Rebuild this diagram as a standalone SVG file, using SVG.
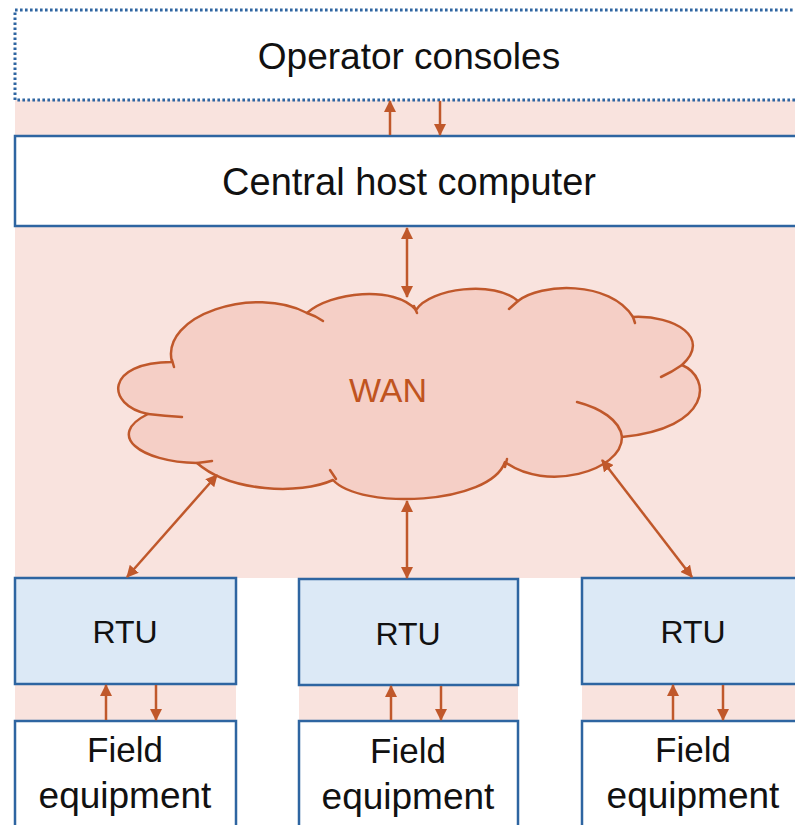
<svg xmlns="http://www.w3.org/2000/svg" width="795" height="825" viewBox="0 0 795 825">
<defs>
<style>
.bg{fill:#f9e3de;stroke:none}
.box{fill:#ffffff;stroke:#2e65a1;stroke-width:2.5}
.dot{fill:#ffffff;stroke:#2e65a1;stroke-width:3;stroke-dasharray:2.6 2.4}
.rtu{fill:#dce9f6;stroke:#2e65a1;stroke-width:2.5}
.lbl{font-family:"Liberation Sans",Arial,sans-serif;fill:#111111;text-anchor:middle}
.big{font-size:37px}
.big2{font-size:38px}
.mid{font-size:35px}
.eq{font-size:37px}
.sm{font-size:32px}
.cloud{fill:#f5cfc6;stroke:#c0582b;stroke-width:2.5;stroke-linejoin:round}
.tail{fill:none;stroke:#c0582b;stroke-width:2.5;stroke-linecap:round}
.wan{font-family:"Liberation Sans",Arial,sans-serif;font-size:34px;fill:#c0541f;text-anchor:middle}
.arr{fill:none;stroke:#c0582b;stroke-width:2.5}
</style>
<marker id="ah" viewBox="0 0 12 12" refX="11" refY="6" markerWidth="12" markerHeight="12" markerUnits="userSpaceOnUse" orient="auto-start-reverse">
<path d="M0,0 L12,6 L0,12 Z" fill="#c0582b"/>
</marker>
</defs>

<g id="background">
<rect class="bg" x="15" y="100" width="780" height="478"/>
<rect class="bg" x="15" y="684" width="221" height="37"/>
<rect class="bg" x="299" y="684" width="219" height="37"/>
<rect class="bg" x="582" y="684" width="213" height="37"/>
</g>

<g id="operator-consoles">
<rect class="dot" x="15" y="10" width="800" height="90"/>
<text class="lbl big" x="409" y="69">Operator consoles</text>
</g>

<g id="central-host">
<rect class="box" x="15" y="136" width="800" height="90"/>
<text class="lbl big2" x="409" y="195">Central host computer</text>
</g>

<g id="wan">
<path class="cloud" d="M172,362 C160,315 255,285 307,313 C330,292 395,285 416,310 C430,288 495,280 518,301 C540,283 610,280 633,317 C675,315 712,338 682,365 C712,378 712,428 622,437 C622,472 545,492 505,462 C490,505 360,510 333,480 C300,495 230,492 197,463 C140,462 105,435 148,414 C105,405 105,362 172,362 Z"/>
<path class="tail" d="M172,360 L174,367"/>
<path class="tail" d="M307,313 Q316,316 323,321"/>
<path class="tail" d="M414,306 L417,313"/>
<path class="tail" d="M518,301 L509,309"/>
<path class="tail" d="M633,317 L635,323"/>
<path class="tail" d="M682,365 Q672,372 661,377"/>
<path class="tail" d="M577,402 C600,408 620,420 622,437"/>
<path class="tail" d="M505,467 L507,459"/>
<path class="tail" d="M330,470 L336,479"/>
<path class="tail" d="M197,463 Q205,462 212,461"/>
<path class="tail" d="M148,414 Q165,416 182,417"/>
<text class="wan" x="388" y="402">WAN</text>
</g>

<g id="rtu-1">
<rect class="rtu" x="15" y="578" width="221" height="106"/>
<text class="lbl sm" x="125" y="643">RTU</text>
</g>
<g id="rtu-2">
<rect class="rtu" x="299" y="579" width="219" height="106"/>
<text class="lbl sm" x="408" y="645">RTU</text>
</g>
<g id="rtu-3">
<rect class="rtu" x="582" y="578" width="230" height="106"/>
<text class="lbl sm" x="693" y="643">RTU</text>
</g>

<g id="field-1">
<rect class="box" x="15" y="721" width="221" height="120"/>
<text class="lbl mid" x="125" y="762">Field</text>
<text class="lbl eq" x="125" y="808">equipment</text>
</g>
<g id="field-2">
<rect class="box" x="299" y="721" width="219" height="120"/>
<text class="lbl mid" x="408" y="763">Field</text>
<text class="lbl eq" x="408" y="809">equipment</text>
</g>
<g id="field-3">
<rect class="box" x="582" y="721" width="230" height="120"/>
<text class="lbl mid" x="693" y="762">Field</text>
<text class="lbl eq" x="693" y="808">equipment</text>
</g>

<g id="connectors">
<line class="arr" x1="390" y1="135" x2="390" y2="101" marker-end="url(#ah)"/>
<line class="arr" x1="440" y1="101" x2="440" y2="135" marker-end="url(#ah)"/>
<line class="arr" x1="407" y1="228" x2="407" y2="297" marker-start="url(#ah)" marker-end="url(#ah)"/>
<line class="arr" x1="217" y1="475" x2="127" y2="577" marker-start="url(#ah)" marker-end="url(#ah)"/>
<line class="arr" x1="407" y1="501" x2="407" y2="578" marker-start="url(#ah)" marker-end="url(#ah)"/>
<line class="arr" x1="602" y1="460" x2="692" y2="577" marker-start="url(#ah)" marker-end="url(#ah)"/>
<line class="arr" x1="106" y1="720" x2="106" y2="685" marker-end="url(#ah)"/>
<line class="arr" x1="156" y1="685" x2="156" y2="720" marker-end="url(#ah)"/>
<line class="arr" x1="391" y1="720" x2="391" y2="686" marker-end="url(#ah)"/>
<line class="arr" x1="441" y1="686" x2="441" y2="720" marker-end="url(#ah)"/>
<line class="arr" x1="673" y1="720" x2="673" y2="685" marker-end="url(#ah)"/>
<line class="arr" x1="723" y1="685" x2="723" y2="720" marker-end="url(#ah)"/>
</g>
</svg>
